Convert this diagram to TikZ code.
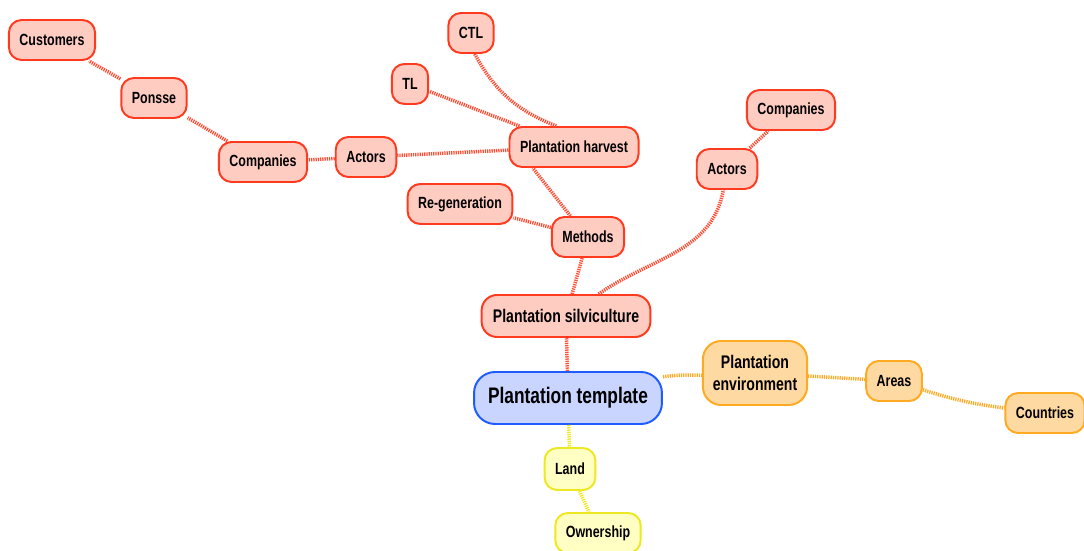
\documentclass[tikz,border=0pt]{standalone}
\usepackage{fontspec}
\setmainfont[FakeStretch=0.77]{Liberation Sans}
\definecolor{redline}{HTML}{FF3A1E}
\definecolor{redfill}{HTML}{FFCCC2}
\definecolor{blueline}{HTML}{1F5CFF}
\definecolor{bluefill}{HTML}{C9D5FF}
\definecolor{orangeline}{HTML}{FFAA22}
\definecolor{orangefill}{HTML}{FFD9A2}
\definecolor{yellowline}{HTML}{EEE822}
\definecolor{yellowfill}{HTML}{FFFFC4}
\tikzset{
  bubble/.style={draw, line width=1.4pt, rounded corners=9pt, minimum height=1cm,
    inner xsep=7.5pt, align=center, font=\bfseries\fontsize{11.5}{13}\selectfont},
  rednode/.style={bubble, draw=redline, fill=redfill},
  bluenode/.style={bubble, draw=blueline, fill=bluefill},
  orangenode/.style={bubble, draw=orangeline, fill=orangefill},
  yellownode/.style={bubble, draw=yellowline, fill=yellowfill},
  link/.style={line width=2.5pt, dash pattern=on 0.9pt off 0.7pt},
  redlink/.style={link, draw=redline!90},
  orangelink/.style={link, draw=orangeline},
  yellowlink/.style={link, draw=yellowline},
}
\begin{document}
\begin{tikzpicture}[x=0.025cm, y=0.025cm]
    \useasboundingbox (0,0) rectangle (1084,551);
    % centre
    \node[bluenode, minimum height=1.3cm, rounded corners=15pt, inner xsep=10pt,
          font=\bfseries\fontsize{16}{18}\selectfont] (template) at (568,153) {Plantation template};
    % silviculture branch
    \node[rednode, minimum height=1.05cm, rounded corners=11pt, inner xsep=8pt,
          font=\bfseries\fontsize{13}{15}\selectfont] (silvi) at (566,235) {Plantation silviculture};
    \node[rednode] (methods) at (588,314) {Methods};
    \node[rednode] (regen) at (460,347) {Re-generation};
    \node[rednode] (harvest) at (574,404) {Plantation harvest};
    \node[rednode] (tl) at (410,467) {TL};
    \node[rednode] (ctl) at (471,518) {CTL};
    \node[rednode] (actorsL) at (366,394) {Actors};
    \node[rednode] (companiesL) at (263,389) {Companies};
    \node[rednode] (ponsse) at (154,453) {Ponsse};
    \node[rednode] (customers) at (52,511) {Customers};
    \node[rednode] (actorsR) at (727,382) {Actors};
    \node[rednode] (companiesR) at (791,441) {Companies};
    % environment branch
    \node[orangenode, minimum height=1.6cm, rounded corners=13pt, inner xsep=7pt,
          font=\bfseries\fontsize{13}{15.5}\selectfont] (environment) at (755,178) {Plantation\\environment};
    \node[orangenode] (areas) at (894,170) {Areas};
    \node[orangenode] (countries) at (1045,138) {Countries};
    % land branch
    \node[yellownode, minimum height=1.05cm] (land) at (570,82) {Land};
    \node[yellownode] (ownership) at (598,18) {Ownership};

    \draw[redlink] (template) -- (silvi);
    \draw[redlink] (silvi) -- (methods);
    \draw[redlink] (silvi.34) to[out=35, in=-100] (actorsR);
    \draw[redlink] (actorsR) -- (companiesR);
    \draw[redlink] (methods) -- (regen);
    \draw[redlink] (methods.130) -- (harvest.207);
    \draw[redlink] (harvest) -- (tl);
    \draw[redlink] (ctl.-80) to[bend right=20] (harvest.130);
    \draw[redlink] (harvest) -- (actorsL);
    \draw[redlink] (actorsL) -- (companiesL);
    \draw[redlink] (companiesL) -- (ponsse);
    \draw[redlink] (ponsse) -- (customers);
    \draw[orangelink] (template) to[bend left=5] (environment);
    \draw[orangelink] (environment) -- (areas);
    \draw[orangelink] (areas) to[bend right=5] (countries);
    \draw[yellowlink] (template) -- (land);
    \draw[yellowlink] (land) -- (ownership);
\end{tikzpicture}
\end{document}
